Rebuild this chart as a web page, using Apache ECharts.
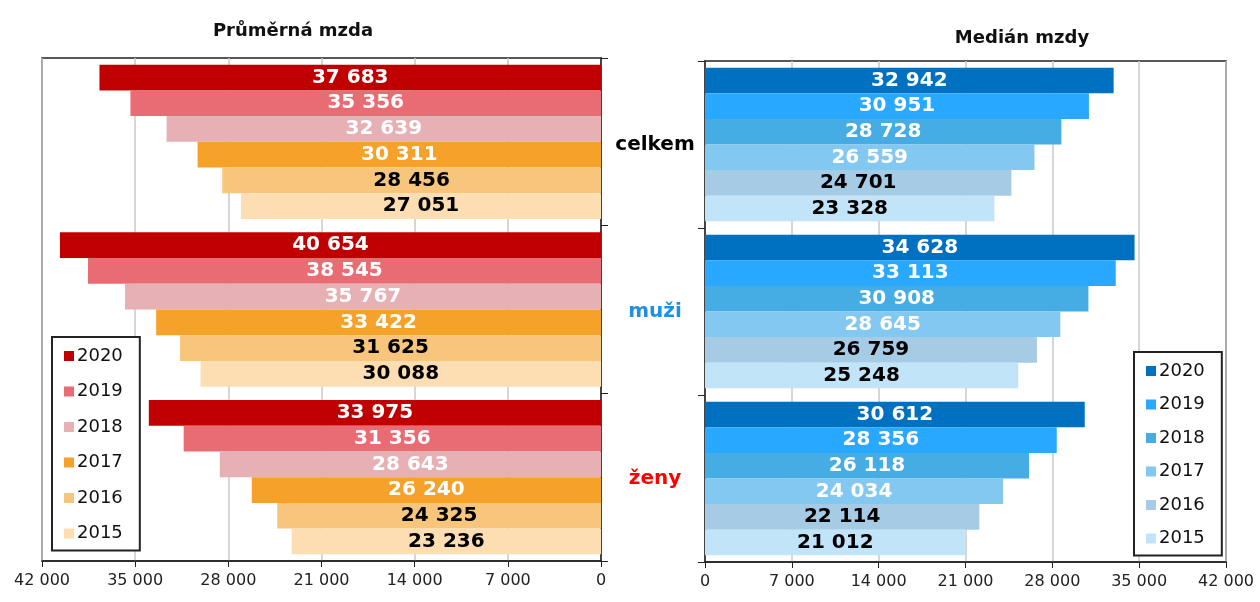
<!DOCTYPE html>
<html>
<head>
<meta charset="utf-8">
<script src="https://cdn.jsdelivr.net/npm/echarts@6/dist/echarts.min.js"></script>
<style>
  html, body { margin: 0; padding: 0; background: #fff; }
  #chart { width: 1260px; height: 602px; }
</style>
</head>
<body>
<div id="chart"></div>
<script>
const years = ['2020', '2019', '2018', '2017', '2016', '2015']
const groups = ['celkem', 'muži', 'ženy']

// průměrná mzda: per year -> [celkem, muži, ženy]
const avg2020 = [37683, 40654, 33975]
const avg2019 = [35356, 38545, 31356]
const avg2018 = [32639, 35767, 28643]
const avg2017 = [30311, 33422, 26240]
const avg2016 = [28456, 31625, 24325]
const avg2015 = [27051, 30088, 23236]

// medián mzdy
const med2020 = [32942, 34628, 30612]
const med2019 = [30951, 33113, 28356]
const med2018 = [28728, 30908, 26118]
const med2017 = [26559, 28645, 24034]
const med2016 = [24701, 26759, 22114]
const med2015 = [23328, 25248, 21012]

const avgData = [avg2020, avg2019, avg2018, avg2017, avg2016, avg2015]
const medData = [med2020, med2019, med2018, med2017, med2016, med2015]

const redColors = ['#c00000', '#e96b73', '#e6b0b4', '#f6a12a', '#f8c57c', '#fcdeb2']
const blueColors = ['#0070c0', '#29a8ff', '#46ace4', '#82c8f0', '#a6cbe5', '#c1e4f8']
const labelColors = ['#fff', '#fff', '#fff', '#fff', '#000', '#000']
const groupColors = ['#000', '#1f8fe0', '#ff0000']

const fmt = v => String(v).replace(/\B(?=(\d{3})+(?!\d))/g, ' ')
const font = 'DejaVu Sans, Verdana, sans-serif'

const chart = echarts.init(document.getElementById('chart'))

const makeSeries = (data, colors, axis, prefix) => data.map((vals, i) => ({
  name: prefix + years[i],
  type: 'bar',
  xAxisIndex: axis,
  yAxisIndex: axis,
  barGap: '0%',
  barCategoryGap: '8%',
  itemStyle: { color: colors[i] },
  label: {
    show: true,
    position: 'inside',
    formatter: p => fmt(p.value),
    color: labelColors[i],
    fontWeight: 'bold',
    fontSize: 20,
    fontFamily: font
  },
  emphasis: { disabled: true },
  data: vals
}))

const xAxisBase = {
  type: 'value',
  min: 0,
  max: 42000,
  interval: 7000,
  axisLine: { show: true, lineStyle: { color: '#222', width: 1.5 } },
  axisTick: { show: true, length: 6, lineStyle: { color: '#222' } },
  axisLabel: { formatter: v => fmt(v), fontSize: 16, color: '#222', fontFamily: font, margin: 12 },
  splitLine: { show: true, lineStyle: { color: '#c8c8c8', width: 1.5 } }
}

const yAxisBase = {
  type: 'category',
  data: groups,
  inverse: true,
  axisLine: { show: true, lineStyle: { color: '#222', width: 1.5 } },
  axisTick: { show: true, length: 7, lineStyle: { color: '#222' } },
  splitLine: { show: false }
}

const legendBase = {
  orient: 'vertical',
  icon: 'rect',
  itemWidth: 10,
  itemHeight: 10,
  padding: [10, 17, 8, 12],
  borderColor: '#222',
  borderWidth: 2,
  backgroundColor: '#fff',
  selectedMode: false,
  textStyle: { fontSize: 18, color: '#111', fontFamily: font, padding: [0, 0, 0, -2] }
}

const option = {
  animation: false,
  backgroundColor: '#fff',
  title: [
    { text: 'Průměrná mzda', left: 288, top: 17, textAlign: 'center',
      textStyle: { fontSize: 18, fontWeight: 'bold', color: '#111', fontFamily: font } },
    { text: 'Medián mzdy', left: 1017, top: 24, textAlign: 'center',
      textStyle: { fontSize: 18, fontWeight: 'bold', color: '#111', fontFamily: font } }
  ],
  grid: [
    { left: 42, right: 659, top: 58, bottom: 41, show: true, borderColor: '#222', borderWidth: 1.5 },
    { left: 705, right: 34, top: 61, bottom: 40, show: true, borderColor: '#222', borderWidth: 1.5 }
  ],
  legend: [
    Object.assign({}, legendBase, {
      left: 52, top: 337, itemGap: 17.5,
      data: years
    }),
    Object.assign({}, legendBase, {
      left: 1134, top: 352, itemGap: 15.5,
      data: years.map(y => 'm' + y),
      formatter: n => n.slice(1)
    })
  ],
  xAxis: [
    Object.assign({}, xAxisBase, { gridIndex: 0, inverse: true }),
    Object.assign({}, xAxisBase, { gridIndex: 1 })
  ],
  yAxis: [
    Object.assign({}, yAxisBase, { gridIndex: 0, position: 'right', axisLabel: { show: false } }),
    Object.assign({}, yAxisBase, {
      gridIndex: 1,
      position: 'left',
      axisLabel: {
        show: true,
        align: 'center',
        margin: 50,
        fontSize: 20,
        fontWeight: 'bold',
        fontFamily: font,
        color: (v, i) => groupColors[i]
      }
    })
  ],
  series: makeSeries(avgData, redColors, 0, '').concat(makeSeries(medData, blueColors, 1, 'm'))
}

chart.setOption(option)
</script>
</body>
</html>
